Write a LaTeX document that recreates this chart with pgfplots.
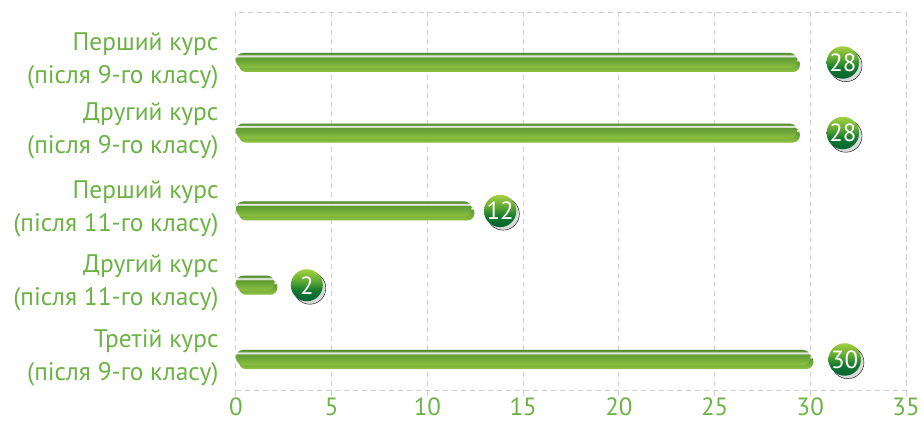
\documentclass[border=0pt]{standalone}
\usepackage{pgfplots}
\pgfplotsset{compat=1.18}
\usepackage{pgfplotstable}
\usepackage{fontspec}
\setmainfont{PT Sans}
\definecolor{txtgreen}{RGB}{108,178,68}
\definecolor{gridgray}{RGB}{208,208,208}
\definecolor{bA}{RGB}{196,216,60}
\definecolor{bB}{RGB}{140,192,62}
\definecolor{bC}{RGB}{112,170,58}
\definecolor{bD}{RGB}{96,156,52}
\definecolor{bH}{RGB}{226,232,222}
\definecolor{bE}{RGB}{110,160,72}
\definecolor{bF}{RGB}{78,138,44}
\definecolor{cD}{RGB}{0,98,50}
\definecolor{cM}{RGB}{20,122,46}
\definecolor{cL}{RGB}{100,172,52}
\definecolor{cT}{RGB}{165,208,64}
\pgfdeclareverticalshading{barshade}{100bp}{color(0bp)=(bA); color(25bp)=(bA); color(27bp)=(bB); color(45bp)=(bC); color(60bp)=(bD); color(64bp)=(bH); color(67bp)=(bH); color(70bp)=(bE); color(75bp)=(bF); color(100bp)=(bF)}
\pgfdeclareverticalshading{circshade}{100bp}{color(0bp)=(cD); color(25bp)=(cD); color(42bp)=(cM); color(58bp)=(cL); color(75bp)=(cT); color(100bp)=(cT)}
\pgfplotstableread{
idx val lx lab
0 29.3 31.7 28
0.95 29.3 31.7 28
2 12.3 13.8 12
3 2.0 3.7 2
4 30.0 31.8 30
}\datatable
\begin{document}
\begin{tikzpicture}
\useasboundingbox (-236bp,-35bp) rectangle (688bp,390bp);
\begin{axis}[
  at={(0,0)}, anchor=south west,
  scale only axis, width=670bp, height=378bp,
  xmin=0, xmax=35, ymin=-0.653, ymax=4.438, y dir=reverse,
  enlargelimits=false, clip=false,
  xtick={0,5,...,35}, ytick={0,0.95,2,3,4},
  yticklabels={{Перший курс\\(після 9-го класу)},{Другий курс\\(після 9-го класу)},{Перший курс\\(після 11-го класу)},{Другий курс\\(після 11-го класу)},{Третій курс\\(після 9-го класу)}},
  axis line style={gridgray, dash pattern=on 5bp off 4bp, line width=1bp},
  xmajorgrids, grid style={gridgray, dash pattern=on 5bp off 4bp, line width=1bp},
  tick align=outside, xtick pos=bottom, ytick pos=left, major tick length=6bp,
  ytick style={draw=none}, xtick style={gridgray, line width=1bp},
  xticklabel style={font=\fontsize{25}{25}\selectfont, text=txtgreen, inner sep=2bp},
  yticklabel style={font=\fontsize{25.5}{33}\selectfont, text=txtgreen, align=right, xshift=-8bp},
  /pgf/number format/assume math mode=true,
]
\pgfplotsinvokeforeach{0,...,4}{
\addplot[xbar, bar width=15bp, bar shift=0pt, draw=none, shade, shading=barshade, rounded corners=7bp,
  preaction={fill=black!15, transform canvas={xshift=3bp, yshift=-4bp}},
  restrict expr to domain={\coordindex}{#1:#1}]
  table[x=val, y=idx]{\datatable};
}
\addplot[only marks, mark=*, mark options={draw=none, fill=none}, nodes near coords, point meta=explicit symbolic,
  every node near coord/.append style={anchor=center, circle, minimum size=32bp, inner sep=0pt, shade, shading=circshade, text=white, font=\fontsize{25}{25}\selectfont, yshift=-2bp,
  preaction={fill=black!15, transform canvas={xshift=3bp, yshift=-3bp}}}]
  table[x=lx, y=idx, meta=lab]{\datatable};
\end{axis}
\end{tikzpicture}
\end{document}
